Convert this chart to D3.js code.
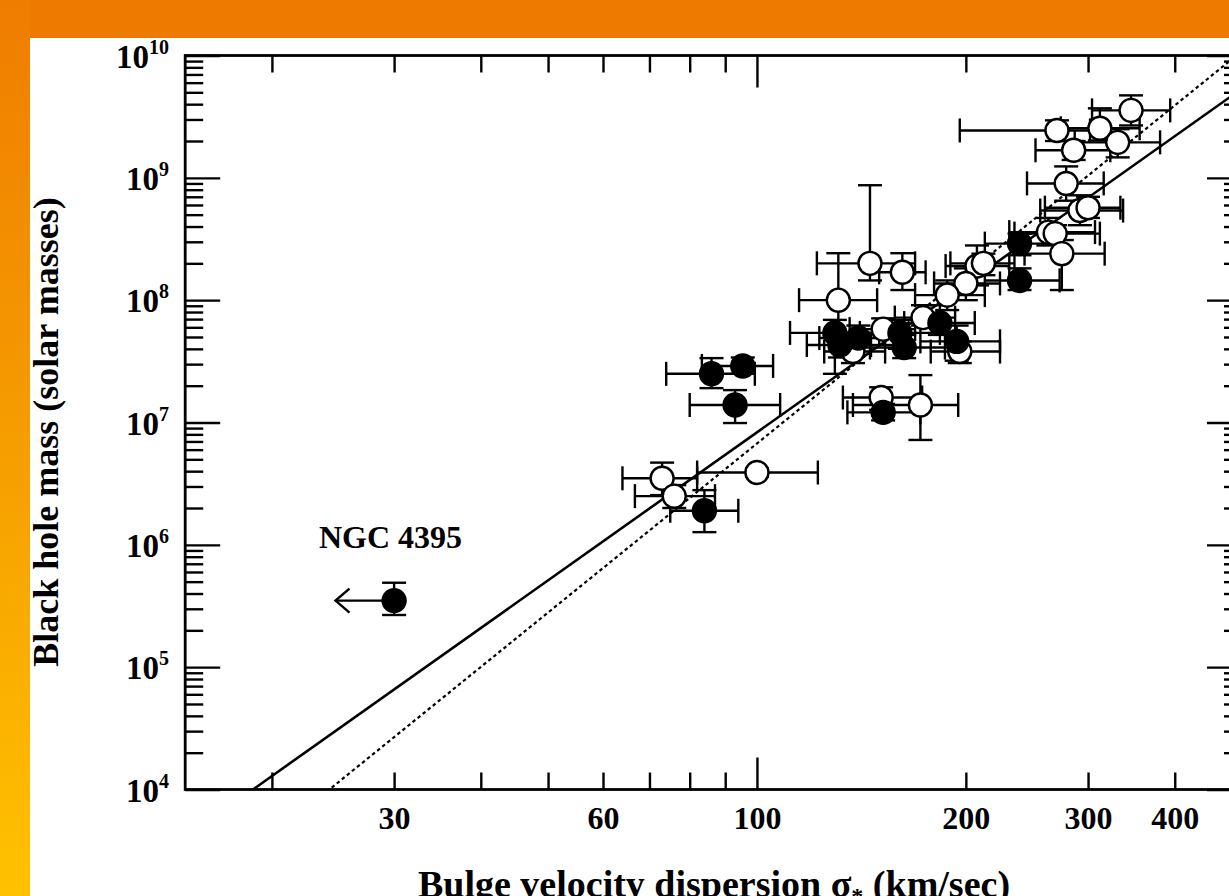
<!DOCTYPE html>
<html>
<head>
<meta charset="utf-8">
<script src="https://cdn.jsdelivr.net/npm/d3@7"></script>
<style>
  html, body { margin: 0; padding: 0; overflow: hidden; background: #fff; }
  svg { display: block; }
  text { font-family: "Liberation Serif", "Times New Roman", serif; font-weight: bold; fill: #000; }
</style>
</head>
<body>
<svg id="chart" width="1229" height="896"></svg>
<script>
// ---- axis ticks ----
const sigmaMinorTicks = [20, 30, 40, 50, 60, 70, 80, 90, 200, 300, 400];
const sigmaMajorTicks = [100];
const sigmaLabels = [30, 60, 100, 200, 300, 400];
const massExponents = [4, 5, 6, 7, 8, 9, 10];

// ---- quiescent galaxies (open circles) ----
const quiescentSigma   = [346, 312, 270.6, 331, 286, 279, 292, 300, 263, 269, 275, 207.5, 212, 200, 188, 162, 145.5, 131, 173.5, 152, 137.5, 196, 151, 172, 100, 73, 76];
const quiescentSigmaLo = [304, 274, 196, 287, 252, 245, 256, 260, 231, 235, 243, 187, 190, 180, 169, 150, 122, 115, 158, 136, 125, 178, 133, 137.5, 82, 64, 66.7];
const quiescentSigmaHi = [394, 356, 302, 381, 323, 316, 337, 334, 307, 312, 317, 231, 235, 224, 213, 175, 169, 149, 193, 169, 153, 224, 173, 195, 122.4, 82, 87];
const quiescentMass    = [3.56e9, 2.54e9, 2.44e9, 1.95e9, 1.68e9, 9.0e8, 5.4e8, 5.7e8, 3.6e8, 3.5e8, 2.4e8, 1.9e8, 2.0e8, 1.37e8, 1.1e8, 1.69e8, 2.0e8, 1.0e8, 7.2e7, 5.8e7, 3.8e7, 3.8e7, 1.6e7, 1.39e7, 3.9e6, 3.5e6, 2.5e6];
const quiescentMassLo  = [2.68e9, 2.02e9, 2.0e9, 1.47e9, 1.4e9, 6.5e8, 4.1e8, 4.7e8, 2.8e8, 2.9e8, 1.21e8, 1.32e8, 1.6e8, 1.0e8, 8.3e7, 1.21e8, 1.45e8, 5.2e7, 6.2e7, 4.3e7, 3.06e7, 3.06e7, 1.27e7, 7.2e6, 3.6e6, 2.55e6, 2.0e6];
const quiescentMassHi  = [4.72e9, 3.7e9, 2.95e9, 2.5e9, 2.0e9, 1.24e9, 7.2e8, 7.0e8, 4.7e8, 4.1e8, 3.1e8, 2.8e8, 2.4e8, 1.82e8, 1.45e8, 2.42e8, 8.7e8, 2.42e8, 9.1e7, 7.1e7, 4.6e7, 4.6e7, 1.94e7, 2.44e7, 4.2e6, 4.7e6, 3.08e6];

// ---- reverberation-mapped AGN (filled circles) ----
const agnSigma   = [84, 86, 95.4, 93, 152, 129.5, 131.7, 140, 160.7, 163, 183.5, 194, 239, 239];
const agnSigmaLo = [75, 74, 83.3, 80, 135, 111.6, 118, 123, 140.7, 145.5, 163, 172, 213, 213];
const agnSigmaHi = [94, 99.3, 105.5, 108, 172, 150, 146, 161, 183.5, 186.6, 206, 224, 273, 273];
const agnMass    = [1.9e6, 2.5e7, 2.9e7, 1.39e7, 1.21e7, 5.4e7, 4.3e7, 4.9e7, 5.4e7, 4.1e7, 6.5e7, 4.6e7, 2.9e8, 1.45e8];
const agnMassLo  = [1.27e6, 1.91e7, 2.5e7, 9.9e6, 1.04e7, 2.5e7, 3.4e7, 4.1e7, 4.0e7, 3.36e7, 5.2e7, 3.2e7, 2.33e8, 1.21e8];
const agnMassHi  = [2.8e6, 3.36e7, 3.4e7, 1.84e7, 1.42e7, 6.9e7, 5.4e7, 6.2e7, 6.9e7, 5.2e7, 9.1e7, 6.2e7, 3.5e8, 1.82e8];

// ---- NGC 4395: dispersion is an upper limit ----
const ngcLabel = "NGC 4395";
const ngcSigma = 30;
const ngcSigmaArrowTip = 24.7;
const ngcMass = 3.5e5;
const ngcMassLo = 2.67e5;
const ngcMassHi = 4.9e5;

// ---- M–sigma fits: log M = norm + slope * log(sigma / 200) ----
const fitStyles = ["solid", "dotted"];
const fitNorm   = [8.13, 8.21];
const fitSlope  = [4.02, 4.59];
const fitPivot  = 200;

// ---- layout ----
const W = 1229, H = 896;
const plot = { left: 185.2, right: 1242, top: 55.5, bottom: 789.5 };

const svg = d3.select("#chart");

// slide background: orange band on top, orange→yellow strip on the left
const defs = svg.append("defs");
const grad = defs.append("linearGradient").attr("id", "sideGrad")
  .attr("x1", 0).attr("y1", 0).attr("x2", 0).attr("y2", 1);
grad.append("stop").attr("offset", "0%").attr("stop-color", "#EF7D00");
grad.append("stop").attr("offset", "45%").attr("stop-color", "#F59A00");
grad.append("stop").attr("offset", "100%").attr("stop-color", "#FFC100");

svg.append("rect").attr("x", 0).attr("y", 0).attr("width", W).attr("height", H).attr("fill", "#EE7B00");
svg.append("rect").attr("x", 0).attr("y", 0).attr("width", 30).attr("height", H).attr("fill", "url(#sideGrad)");
svg.append("rect").attr("x", 30).attr("y", 38).attr("width", W - 30).attr("height", H - 38).attr("fill", "#fff");

defs.append("clipPath").attr("id", "plotClip")
  .append("rect").attr("x", plot.left).attr("y", plot.top)
  .attr("width", plot.right - plot.left).attr("height", plot.bottom - plot.top);

const x = d3.scaleLog().domain([15, 500]).range([plot.left, plot.right]);
const y = d3.scaleLog().domain([1e4, 1e10]).range([plot.bottom, plot.top]);

// ---- fit lines ----
const lineGen = d3.line().x(d => x(d[0])).y(d => y(d[1]));
const fitG = svg.append("g").attr("clip-path", "url(#plotClip)");
fitStyles.forEach((style, i) => {
  const ends = x.domain().map(s => [s, Math.pow(10, fitNorm[i] + fitSlope[i] * Math.log10(s / fitPivot))]);
  fitG.append("path")
    .attr("d", lineGen(ends))
    .attr("fill", "none")
    .attr("stroke", "#000")
    .attr("stroke-width", style === "solid" ? 2.6 : 2.2)
    .attr("stroke-dasharray", style === "solid" ? null : "3.5,3");
});

// ---- axes frame and ticks ----
const axG = svg.append("g");
function tickAxis(axisFn, scale, values, size, transform) {
  const g = axG.append("g").attr("transform", transform)
    .call(axisFn(scale).tickValues(values).tickSize(size).tickFormat(""));
  g.select(".domain").remove();
  g.selectAll(".tick line").attr("stroke", "#000").attr("stroke-width", 2.4);
  return g;
}
// bottom / top
tickAxis(d3.axisBottom, x, sigmaMinorTicks, -17, `translate(0,${plot.bottom})`);
tickAxis(d3.axisBottom, x, sigmaMajorTicks, -32, `translate(0,${plot.bottom})`);
tickAxis(d3.axisTop, x, sigmaMinorTicks, -17, `translate(0,${plot.top})`);
tickAxis(d3.axisTop, x, sigmaMajorTicks, -32, `translate(0,${plot.top})`);

// left / right (minor ticks 2..9 per decade)
const massMajor = massExponents.map(e => Math.pow(10, e));
const massMinor = [];
massExponents.slice(0, -1).forEach(e => {
  for (let k = 2; k <= 9; k++) massMinor.push(k * Math.pow(10, e));
});
tickAxis(d3.axisLeft, y, massMinor, -18, `translate(${plot.left},0)`);
tickAxis(d3.axisLeft, y, massMajor, -35, `translate(${plot.left},0)`);
tickAxis(d3.axisRight, y, massMinor, -18, `translate(${plot.right},0)`);
tickAxis(d3.axisRight, y, massMajor, -35, `translate(${plot.right},0)`);

axG.append("rect")
  .attr("x", plot.left).attr("y", plot.top)
  .attr("width", plot.right - plot.left).attr("height", plot.bottom - plot.top)
  .attr("fill", "none").attr("stroke", "#000").attr("stroke-width", 2.8);

// tick labels
const xLab = axG.append("g").attr("transform", `translate(0,${plot.bottom})`)
  .call(d3.axisBottom(x).tickValues(sigmaLabels).tickSize(0).tickPadding(0).tickFormat(d3.format("d")));
xLab.select(".domain").remove();
xLab.selectAll("text")
  .attr("y", 39).attr("dy", null)
  .attr("font-size", 32)
  .style("font-family", "'Liberation Serif', 'Times New Roman', serif")
  .style("font-weight", "bold");

const yLab = axG.append("g");
massExponents.forEach(e => {
  const t = yLab.append("text")
    .attr("x", 169).attr("y", y(Math.pow(10, e)) + 12)
    .attr("text-anchor", "end").attr("font-size", 33);
  t.append("tspan").text("10");
  t.append("tspan").attr("dy", -14).attr("font-size", 20).text(e);
});

// axis titles
const xt = svg.append("text")
  .attr("x", 714).attr("y", 897)
  .attr("text-anchor", "middle").attr("font-size", 38);
xt.append("tspan").text("Bulge velocity dispersion ");
xt.append("tspan").text("σ");
xt.append("tspan").attr("dy", 7).attr("font-size", 24).text("*");
xt.append("tspan").attr("dy", -7).text(" (km/sec)");

svg.append("text")
  .attr("transform", "translate(58,432) rotate(-90)")
  .attr("text-anchor", "middle").attr("font-size", 36)
  .text("Black hole mass (solar masses)");

// ---- data points with error bars ----
const R = 11.5, CAP = 12, SW = 2.4;
const dataG = svg.append("g");

function errorBars(sig, sigLo, sigHi, m, mLo, mHi) {
  const g = dataG.append("g").attr("stroke", "#000").attr("stroke-width", SW).attr("fill", "none");
  sig.forEach((s, i) => {
    const cx = x(s), cy = y(m[i]);
    const x0 = x(sigLo[i]), x1 = x(sigHi[i]);
    const y0 = y(mLo[i]), y1 = y(mHi[i]);
    g.append("line").attr("x1", x0).attr("x2", x1).attr("y1", cy).attr("y2", cy);
    g.append("line").attr("x1", x0).attr("x2", x0).attr("y1", cy - CAP).attr("y2", cy + CAP);
    g.append("line").attr("x1", x1).attr("x2", x1).attr("y1", cy - CAP).attr("y2", cy + CAP);
    g.append("line").attr("x1", cx).attr("x2", cx).attr("y1", y0).attr("y2", y1);
    g.append("line").attr("x1", cx - CAP).attr("x2", cx + CAP).attr("y1", y0).attr("y2", y0);
    g.append("line").attr("x1", cx - CAP).attr("x2", cx + CAP).attr("y1", y1).attr("y2", y1);
  });
}

errorBars(quiescentSigma, quiescentSigmaLo, quiescentSigmaHi, quiescentMass, quiescentMassLo, quiescentMassHi);
errorBars(agnSigma, agnSigmaLo, agnSigmaHi, agnMass, agnMassLo, agnMassHi);

dataG.append("g").selectAll("circle")
  .data(d3.range(quiescentSigma.length))
  .join("circle")
  .attr("cx", i => x(quiescentSigma[i])).attr("cy", i => y(quiescentMass[i]))
  .attr("r", R).attr("fill", "#fff").attr("stroke", "#000").attr("stroke-width", SW);

dataG.append("g").selectAll("circle")
  .data(d3.range(agnSigma.length))
  .join("circle")
  .attr("cx", i => x(agnSigma[i])).attr("cy", i => y(agnMass[i]))
  .attr("r", R).attr("fill", "#000").attr("stroke", "#000").attr("stroke-width", SW);

// NGC 4395: mass error bar, upper-limit arrow on sigma, label
const ng = svg.append("g").attr("stroke", "#000").attr("stroke-width", SW).attr("fill", "none");
const nx = x(ngcSigma), ny = y(ngcMass);
ng.append("line").attr("x1", nx).attr("x2", nx).attr("y1", y(ngcMassLo)).attr("y2", y(ngcMassHi));
ng.append("line").attr("x1", nx - CAP).attr("x2", nx + CAP).attr("y1", y(ngcMassLo)).attr("y2", y(ngcMassLo));
ng.append("line").attr("x1", nx - CAP).attr("x2", nx + CAP).attr("y1", y(ngcMassHi)).attr("y2", y(ngcMassHi));
const tipX = x(ngcSigmaArrowTip);
ng.append("line").attr("x1", tipX).attr("x2", nx).attr("y1", ny).attr("y2", ny);
ng.append("path").attr("d", `M${tipX + 14},${ny - 12} L${tipX},${ny} L${tipX + 14},${ny + 12}`);
svg.append("circle").attr("cx", nx).attr("cy", ny).attr("r", R)
  .attr("fill", "#000").attr("stroke", "#000").attr("stroke-width", SW);

svg.append("text")
  .attr("x", 319).attr("y", 548)
  .attr("font-size", 32)
  .text(ngcLabel);
</script>
</body>
</html>
